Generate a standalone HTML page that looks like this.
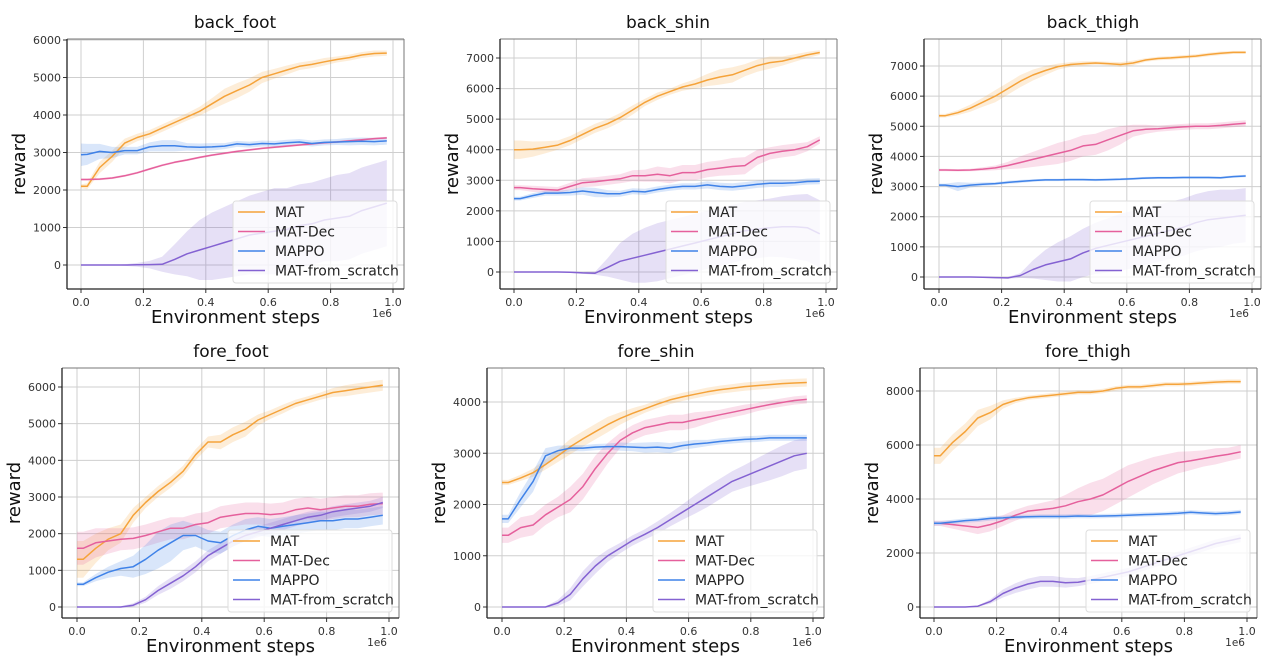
<!DOCTYPE html>
<html><head><meta charset="utf-8">
<style>
html,body{margin:0;padding:0;background:#fff;}
svg{display:block;font-family:"DejaVu Sans","Liberation Sans",sans-serif;}
</style></head>
<body>
<svg id="fig" width="1280" height="671" viewBox="0 0 1280 671" xmlns="http://www.w3.org/2000/svg"></svg>
<script>
const xs = [0,.02,.06,.10,.14,.18,.22,.26,.30,.34,.38,.42,.46,.50,.54,.58,.62,.66,.70,.74,.78,.82,.86,.90,.94,.98];
const xTicks = [0,0.2,0.4,0.6,0.8,1.0];
const xTickLabels = ["0.0","0.2","0.4","0.6","0.8","1.0"];
const seriesNames = ["MAT","MAT-Dec","MAPPO","MAT-from_scratch"];
const panelTitles = ["back_foot","back_shin","back_thigh","fore_foot","fore_shin","fore_thigh"];
const yTicks1 = [0,1000,2000,3000,4000,5000,6000];
const yTicks2 = [0,1000,2000,3000,4000,5000,6000,7000];
const yTicks3 = [0,1000,2000,3000,4000,5000,6000,7000];
const yTicks4 = [0,1000,2000,3000,4000,5000,6000];
const yTicks5 = [0,1000,2000,3000,4000];
const yTicks6 = [0,2000,4000,6000,8000];

// back_foot
const p1MAT = [2100,2100,2600,2900,3250,3400,3500,3650,3800,3950,4100,4300,4500,4650,4800,5000,5100,5200,5300,5350,5420,5480,5530,5600,5640,5650];
const p1MATs = [50,80,150,150,120,100,100,100,100,100,120,150,200,200,180,150,130,120,100,100,100,80,80,80,80,70];
const p1Dec = [2280,2280,2290,2320,2380,2460,2560,2660,2740,2800,2870,2930,2980,3030,3070,3110,3140,3170,3200,3230,3260,3280,3310,3340,3370,3390];
const p1Decs = [30,30,30,30,30,30,30,30,30,30,30,30,30,30,30,30,30,30,30,30,30,30,30,30,30,30];
const p1PPO = [2940,2950,3030,3000,3050,3050,3150,3180,3180,3150,3140,3150,3170,3230,3210,3240,3230,3260,3280,3240,3270,3280,3290,3300,3290,3310];
const p1PPOs = [300,280,200,150,100,100,120,150,150,100,100,100,80,80,80,80,80,80,80,80,80,80,100,100,100,100];
const p1Scr = [0,0,0,0,0,5,10,20,150,300,400,500,600,700,800,850,900,950,1050,1100,1200,1250,1300,1450,1550,1650];
const p1Scrs = [0,0,0,0,20,50,100,200,400,600,800,900,950,1000,1050,1100,1150,1100,1100,1100,1100,1150,1150,1150,1150,1150];
// back_shin
const p2MAT = [4000,4000,4020,4080,4150,4300,4500,4700,4850,5050,5300,5550,5750,5900,6050,6150,6280,6380,6450,6600,6750,6850,6900,7000,7100,7180];
const p2MATs = [300,300,250,200,150,150,150,150,150,150,150,120,120,100,120,150,200,250,250,200,200,200,150,120,100,80];
const p2Dec = [2760,2760,2720,2700,2680,2800,2920,2950,3000,3050,3150,3150,3200,3150,3250,3250,3350,3400,3450,3480,3750,3880,3950,4000,4100,4320];
const p2Decs = [80,80,100,100,100,120,150,150,150,150,180,200,250,250,250,250,250,250,280,280,250,200,200,200,150,120];
const p2PPO = [2400,2400,2500,2580,2580,2600,2650,2600,2560,2560,2640,2620,2700,2760,2800,2800,2850,2800,2780,2820,2870,2900,2900,2920,2960,2970];
const p2PPOs = [60,60,80,80,80,100,120,150,120,100,100,100,100,100,100,100,120,120,120,120,120,120,120,100,100,100];
const p2Scr = [0,0,0,0,0,-10,-30,-40,150,350,450,550,650,750,850,950,1050,1150,1250,1350,1400,1450,1480,1480,1450,1250];
const p2Scrs = [0,0,0,0,10,20,30,50,300,600,800,900,950,950,950,950,950,950,950,950,950,950,1000,1050,1100,1100];
// back_thigh
const p3MAT = [5350,5350,5450,5600,5800,6000,6250,6500,6700,6850,6980,7050,7080,7100,7080,7050,7100,7200,7250,7270,7300,7330,7380,7420,7450,7450];
const p3MATs = [60,60,80,120,150,200,200,200,180,150,100,80,80,60,60,80,80,60,60,60,60,60,60,60,50,50];
const p3Dec = [3550,3550,3540,3550,3580,3620,3700,3800,3900,4000,4100,4200,4350,4400,4550,4700,4850,4900,4920,4950,4980,5000,5000,5030,5070,5100];
const p3Decs = [40,40,40,40,60,80,120,200,250,300,350,350,350,350,350,300,200,150,100,100,100,100,100,100,100,100];
const p3PPO = [3050,3050,3000,3050,3080,3100,3140,3170,3200,3220,3220,3230,3230,3220,3230,3240,3260,3280,3290,3290,3300,3300,3300,3290,3330,3350];
const p3PPOs = [50,50,150,80,60,50,50,50,40,40,40,40,40,40,40,40,40,40,40,40,40,40,40,40,40,40];
const p3Scr = [0,0,0,0,-10,-20,-30,50,250,400,500,600,800,950,1050,1150,1250,1350,1450,1550,1650,1800,1900,1950,2000,2050];
const p3Scrs = [0,0,0,0,10,20,30,80,300,500,650,750,800,850,900,950,950,950,950,950,950,950,950,950,900,900];
// fore_foot
const p4MAT = [1300,1300,1600,1850,2000,2500,2850,3150,3400,3700,4150,4500,4500,4700,4850,5100,5250,5400,5550,5650,5750,5850,5900,5950,6000,6050];
const p4MATs = [500,500,400,300,250,200,150,150,150,150,150,150,200,200,200,150,120,120,100,100,100,120,150,150,150,150];
const p4Dec = [1600,1600,1750,1800,1850,1870,1950,2050,2150,2150,2250,2300,2450,2500,2550,2550,2520,2550,2650,2700,2650,2700,2750,2750,2800,2820];
const p4Decs = [450,450,400,350,300,300,300,300,300,300,300,300,300,300,300,300,300,300,300,300,300,300,300,300,300,300];
const p4PPO = [620,620,800,950,1050,1100,1300,1550,1750,1950,1950,1800,1750,1950,2100,2200,2150,2200,2250,2300,2350,2350,2400,2400,2450,2500];
const p4PPOs = [50,50,100,150,200,300,400,500,500,400,300,300,300,300,300,250,250,250,250,250,250,250,250,250,250,250];
const p4Scr = [0,0,0,0,0,50,200,450,650,850,1100,1400,1600,1800,1950,2050,2150,2250,2350,2450,2500,2600,2650,2700,2750,2850];
const p4Scrs = [0,0,0,0,20,50,80,120,150,150,150,150,150,150,150,150,150,150,150,150,150,150,150,150,150,150];
// fore_shin
const p5MAT = [2430,2430,2520,2620,2780,2950,3130,3280,3420,3560,3680,3780,3870,3960,4040,4100,4150,4200,4240,4270,4300,4320,4340,4360,4370,4380];
const p5MATs = [50,50,60,80,100,120,150,150,150,150,120,100,80,80,80,80,80,80,80,80,80,80,80,80,80,80];
const p5Dec = [1400,1400,1550,1600,1800,1950,2100,2350,2700,3000,3250,3400,3500,3550,3600,3600,3650,3700,3750,3800,3850,3900,3950,3990,4030,4050];
const p5Decs = [150,150,200,200,200,200,250,250,250,200,150,150,150,150,150,150,150,120,100,100,100,80,80,80,80,80];
const p5PPO = [1720,1720,2100,2450,2950,3050,3100,3100,3120,3130,3130,3120,3110,3120,3100,3150,3180,3200,3230,3250,3270,3280,3300,3300,3300,3300];
const p5PPOs = [80,80,150,200,150,100,60,60,60,60,80,80,100,100,100,80,80,60,60,60,60,60,60,60,60,60];
const p5Scr = [0,0,0,0,0,80,250,550,800,1000,1150,1300,1420,1550,1700,1850,2000,2150,2300,2450,2550,2650,2750,2850,2950,3000];
const p5Scrs = [0,0,0,0,10,60,120,150,150,120,100,100,100,120,130,150,180,200,200,200,220,250,280,300,300,300];
// fore_thigh
const p6MAT = [5600,5600,6100,6500,7000,7200,7500,7650,7750,7800,7850,7900,7950,7950,8000,8100,8150,8150,8200,8250,8250,8270,8300,8330,8350,8350];
const p6MATs = [300,300,300,300,300,250,150,100,80,80,80,80,80,80,80,80,80,80,80,80,80,80,80,80,80,80];
const p6Dec = [3100,3100,3050,3000,2950,3050,3200,3400,3550,3600,3650,3750,3900,4000,4150,4400,4650,4850,5050,5200,5350,5420,5500,5580,5650,5750];
const p6Decs = [100,100,150,200,250,250,200,200,200,250,300,400,500,600,600,600,600,550,500,450,400,350,300,300,250,250];
const p6PPO = [3100,3100,3150,3200,3230,3280,3300,3330,3340,3350,3350,3350,3370,3360,3370,3380,3400,3420,3430,3450,3470,3510,3480,3460,3480,3520];
const p6PPOs = [80,80,80,80,80,80,80,80,80,80,80,80,80,80,80,80,80,80,80,80,80,80,80,80,80,80];
const p6Scr = [0,0,0,0,30,200,500,700,850,950,950,900,920,1000,1100,1200,1300,1450,1600,1750,1900,2050,2200,2350,2450,2550];
const p6Scrs = [0,0,0,0,20,80,150,180,200,200,200,180,150,150,150,150,150,150,150,150,150,150,150,150,150,150];

const colors = ["#f5a33a","#e5609c","#3f82e8","#8462d2"];
const NS = "http://www.w3.org/2000/svg";
const svg = document.getElementById("fig");

// layout: box, x pixel of 0/1, y pixel of v0/v1
const panels = [
  {box:[67,39,404,289], x0:81, x1:393, yv:[0,6000], yp:[265,40], ticks:yTicks1, series:[[p1MAT,p1MATs],[p1Dec,p1Decs],[p1PPO,p1PPOs],[p1Scr,p1Scrs]], title:[235,22]},
  {box:[500,39,837,289], x0:514, x1:826, yv:[0,7000], yp:[272,58], ticks:yTicks2, series:[[p2MAT,p2MATs],[p2Dec,p2Decs],[p2PPO,p2PPOs],[p2Scr,p2Scrs]], title:[668,22]},
  {box:[924,39,1261,289], x0:939, x1:1252, yv:[0,7000], yp:[277,66], ticks:yTicks3, series:[[p3MAT,p3MATs],[p3Dec,p3Decs],[p3PPO,p3PPOs],[p3Scr,p3Scrs]], title:[1093,22]},
  {box:[62,368,399,618], x0:77, x1:389, yv:[0,6000], yp:[607,387], ticks:yTicks4, series:[[p4MAT,p4MATs],[p4Dec,p4Decs],[p4PPO,p4PPOs],[p4Scr,p4Scrs]], title:[231,351]},
  {box:[487,368,824,618], x0:502, x1:813, yv:[0,4000], yp:[607,402], ticks:yTicks5, series:[[p5MAT,p5MATs],[p5Dec,p5Decs],[p5PPO,p5PPOs],[p5Scr,p5Scrs]], title:[656,351]},
  {box:[920,368,1257,618], x0:934, x1:1247, yv:[0,8000], yp:[607,391], ticks:yTicks6, series:[[p6MAT,p6MATs],[p6Dec,p6Decs],[p6PPO,p6PPOs],[p6Scr,p6Scrs]], title:[1088,351]}
];

function mk(tag, attrs, parent){
  const e = document.createElementNS(NS, tag);
  for (const k in attrs) e.setAttribute(k, attrs[k]);
  (parent||svg).appendChild(e);
  return e;
}

panels.forEach((p, pi) => {
  const [L,T,R,B] = p.box;
  const g = mk("g", {});
  
  
  const X = v => p.x0 + (p.x1 - p.x0) * v;
  const Y = v => p.yp[0] + (p.yp[1] - p.yp[0]) * (v - p.yv[0]) / (p.yv[1] - p.yv[0]);
  const clipId = "clip" + pi;
  const cp = mk("clipPath", {id: clipId}, g);
  mk("rect", {x:L, y:T, width:R-L, height:B-T}, cp);

  // grid
  xTicks.forEach((t,i) => {
    const gl = mk("line", {x1:X(t), x2:X(t), y1:T, y2:B, stroke:"#cfcfcf", "stroke-width":1}, g);
    
    
    mk("line", {x1:X(t), x2:X(t), y1:B, y2:B+4, stroke:"#333", "stroke-width":1}, g);
    const tl = mk("text", {x:X(t), y:B+17, "font-size":11, fill:"#333", "text-anchor":"middle"}, g);
    tl.textContent = xTickLabels[i];
    
    
  });
  p.ticks.forEach(t => {
    const gl = mk("line", {x1:L, x2:R, y1:Y(t), y2:Y(t), stroke:"#cfcfcf", "stroke-width":1}, g);
    
    
    mk("line", {x1:L-4, x2:L, y1:Y(t), y2:Y(t), stroke:"#333", "stroke-width":1}, g);
    const tl = mk("text", {x:L-6, y:Y(t)+4, "font-size":11, fill:"#333", "text-anchor":"end"}, g);
    tl.textContent = String(t);
    
    
  });

  // bands & lines
  const plot = mk("g", {"clip-path":"url(#"+clipId+")"}, g);
  p.series.forEach((s, si) => {
    const [m, sd] = s;
    let up = xs.map((x,i)=>X(x).toFixed(1)+","+Y(m[i]+sd[i]).toFixed(1));
    let lo = xs.map((x,i)=>X(x).toFixed(1)+","+Y(m[i]-sd[i]).toFixed(1)).reverse();
    const band = mk("polygon", {points: up.concat(lo).join(" "), fill: colors[si], "fill-opacity":0.2, stroke:"none"}, plot);
    
    
  });
  p.series.forEach((s, si) => {
    const [m] = s;
    const ln = mk("polyline", {points: xs.map((x,i)=>X(x).toFixed(1)+","+Y(m[i]).toFixed(1)).join(" "), fill:"none", stroke: colors[si], "stroke-width":1.5, "stroke-linejoin":"round"}, plot);
    
    
  });

  // spines
  mk("line", {x1:L, x2:R, y1:T, y2:T, stroke:"#777", "stroke-width":1}, g);
  mk("line", {x1:R, x2:R, y1:T, y2:B, stroke:"#777", "stroke-width":1}, g);
  mk("line", {x1:L, x2:L, y1:T, y2:B, stroke:"#222", "stroke-width":1.3}, g);
  mk("line", {x1:L, x2:R, y1:B, y2:B, stroke:"#222", "stroke-width":1.3}, g);

  // legend
  const lg = mk("g", {}, g);
  
  
  const lw = 164, lh = 82, lx = R - 7 - lw, ly = B - 6 - lh;
  mk("rect", {x:lx, y:ly, width:lw, height:lh, rx:3, fill:"#fff", "fill-opacity":0.8, stroke:"#ddd"}, lg);
  seriesNames.forEach((n, si) => {
    const yy = ly + 11 + si * 19.5;
    mk("line", {x1:lx+5, x2:lx+32, y1:yy, y2:yy, stroke: colors[si], "stroke-width":1.6}, lg);
    const t = mk("text", {x:lx+42, y:yy+5, "font-size":14, fill:"#222"}, lg);
    t.textContent = n;
    
    
  });

  // labels
  const tt = mk("text", {x:p.title[0], y:p.title[1]+6, "font-size":17, fill:"#111", "text-anchor":"middle"}, g);
  tt.textContent = panelTitles[pi];
  
  
  const xl = mk("text", {x:(L+R)/2, y:B+34, "font-size":18, fill:"#111", "text-anchor":"middle"}, g);
  xl.textContent = "Environment steps";
  
  
  const ex = mk("text", {x:R-12, y:B+28, "font-size":10.5, fill:"#333", "text-anchor":"end"}, g);
  ex.textContent = "1e6";
  
  
  const cy = (T+B)/2;
  const yl = mk("text", {x:L-42, y:cy, "font-size":18, fill:"#111", "text-anchor":"middle", transform:"rotate(-90 "+(L-42)+" "+cy+")"}, g);
  yl.textContent = "reward";
  
  
});
</script>
</body></html>
